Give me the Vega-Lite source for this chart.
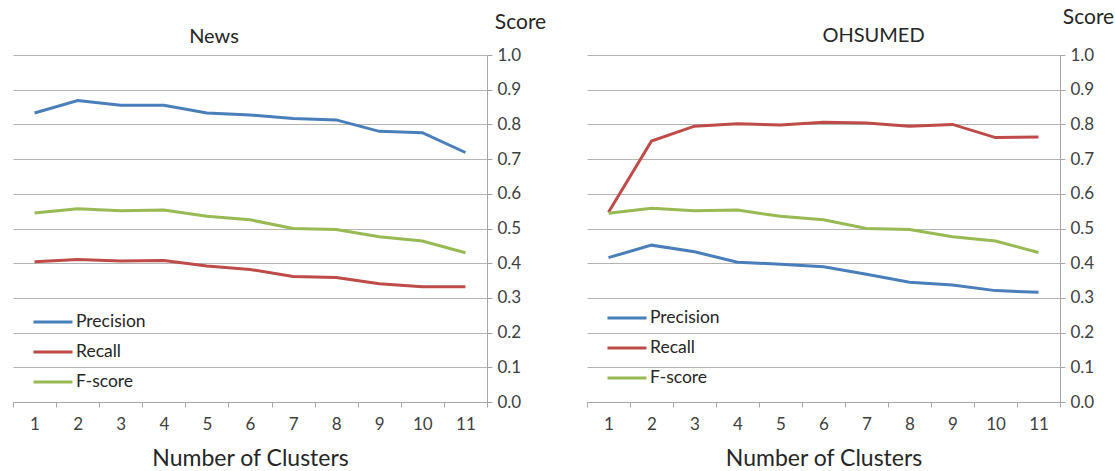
{
  "$schema": "https://vega.github.io/schema/vega-lite/v6.json",
  "background": "white",
  "padding": {"left": 12, "top": 6, "right": 0, "bottom": 0},
  "bounds": "flush",
  "spacing": 100,
  "config": {
    "font": "Lato",
    "view": {"stroke": null},
    "axis": {
      "labelFont": "Lato", "titleFont": "Lato",
      "labelColor": "#404040", "titleColor": "#262626",
      "labelFontSize": 17, "titleFontSize": 20, "titleFontWeight": "normal",
      "domainColor": "#a6a6a6", "tickColor": "#a6a6a6", "gridColor": "#b4b4b4",
      "tickSize": 5
    },
    "legend": {"labelFont": "Lato", "labelFontSize": 17.5, "labelColor": "#262626"},
    "title": {"font": "Lato", "fontSize": 20, "fontWeight": "normal", "color": "#262626"}
  },
  "data": {
    "values": [
      {"set": "News", "k": 1, "metric": "Precision", "score": 0.833},
      {"set": "News", "k": 2, "metric": "Precision", "score": 0.869},
      {"set": "News", "k": 3, "metric": "Precision", "score": 0.855},
      {"set": "News", "k": 4, "metric": "Precision", "score": 0.855},
      {"set": "News", "k": 5, "metric": "Precision", "score": 0.833},
      {"set": "News", "k": 6, "metric": "Precision", "score": 0.827},
      {"set": "News", "k": 7, "metric": "Precision", "score": 0.817},
      {"set": "News", "k": 8, "metric": "Precision", "score": 0.813},
      {"set": "News", "k": 9, "metric": "Precision", "score": 0.780},
      {"set": "News", "k": 10, "metric": "Precision", "score": 0.776},
      {"set": "News", "k": 11, "metric": "Precision", "score": 0.719},
      {"set": "News", "k": 1, "metric": "Recall", "score": 0.404},
      {"set": "News", "k": 2, "metric": "Recall", "score": 0.411},
      {"set": "News", "k": 3, "metric": "Recall", "score": 0.406},
      {"set": "News", "k": 4, "metric": "Recall", "score": 0.408},
      {"set": "News", "k": 5, "metric": "Recall", "score": 0.392},
      {"set": "News", "k": 6, "metric": "Recall", "score": 0.382},
      {"set": "News", "k": 7, "metric": "Recall", "score": 0.362},
      {"set": "News", "k": 8, "metric": "Recall", "score": 0.359},
      {"set": "News", "k": 9, "metric": "Recall", "score": 0.341},
      {"set": "News", "k": 10, "metric": "Recall", "score": 0.332},
      {"set": "News", "k": 11, "metric": "Recall", "score": 0.332},
      {"set": "News", "k": 1, "metric": "F-score", "score": 0.545},
      {"set": "News", "k": 2, "metric": "F-score", "score": 0.557},
      {"set": "News", "k": 3, "metric": "F-score", "score": 0.551},
      {"set": "News", "k": 4, "metric": "F-score", "score": 0.553},
      {"set": "News", "k": 5, "metric": "F-score", "score": 0.535},
      {"set": "News", "k": 6, "metric": "F-score", "score": 0.525},
      {"set": "News", "k": 7, "metric": "F-score", "score": 0.500},
      {"set": "News", "k": 8, "metric": "F-score", "score": 0.497},
      {"set": "News", "k": 9, "metric": "F-score", "score": 0.476},
      {"set": "News", "k": 10, "metric": "F-score", "score": 0.464},
      {"set": "News", "k": 11, "metric": "F-score", "score": 0.430},
      {"set": "OHSUMED", "k": 1, "metric": "Precision", "score": 0.416},
      {"set": "OHSUMED", "k": 2, "metric": "Precision", "score": 0.452},
      {"set": "OHSUMED", "k": 3, "metric": "Precision", "score": 0.433},
      {"set": "OHSUMED", "k": 4, "metric": "Precision", "score": 0.403},
      {"set": "OHSUMED", "k": 5, "metric": "Precision", "score": 0.397},
      {"set": "OHSUMED", "k": 6, "metric": "Precision", "score": 0.390},
      {"set": "OHSUMED", "k": 7, "metric": "Precision", "score": 0.368},
      {"set": "OHSUMED", "k": 8, "metric": "Precision", "score": 0.345},
      {"set": "OHSUMED", "k": 9, "metric": "Precision", "score": 0.337},
      {"set": "OHSUMED", "k": 10, "metric": "Precision", "score": 0.321},
      {"set": "OHSUMED", "k": 11, "metric": "Precision", "score": 0.316},
      {"set": "OHSUMED", "k": 1, "metric": "Recall", "score": 0.547},
      {"set": "OHSUMED", "k": 2, "metric": "Recall", "score": 0.752},
      {"set": "OHSUMED", "k": 3, "metric": "Recall", "score": 0.795},
      {"set": "OHSUMED", "k": 4, "metric": "Recall", "score": 0.802},
      {"set": "OHSUMED", "k": 5, "metric": "Recall", "score": 0.798},
      {"set": "OHSUMED", "k": 6, "metric": "Recall", "score": 0.806},
      {"set": "OHSUMED", "k": 7, "metric": "Recall", "score": 0.804},
      {"set": "OHSUMED", "k": 8, "metric": "Recall", "score": 0.795},
      {"set": "OHSUMED", "k": 9, "metric": "Recall", "score": 0.800},
      {"set": "OHSUMED", "k": 10, "metric": "Recall", "score": 0.762},
      {"set": "OHSUMED", "k": 11, "metric": "Recall", "score": 0.764},
      {"set": "OHSUMED", "k": 1, "metric": "F-score", "score": 0.544},
      {"set": "OHSUMED", "k": 2, "metric": "F-score", "score": 0.558},
      {"set": "OHSUMED", "k": 3, "metric": "F-score", "score": 0.551},
      {"set": "OHSUMED", "k": 4, "metric": "F-score", "score": 0.553},
      {"set": "OHSUMED", "k": 5, "metric": "F-score", "score": 0.535},
      {"set": "OHSUMED", "k": 6, "metric": "F-score", "score": 0.525},
      {"set": "OHSUMED", "k": 7, "metric": "F-score", "score": 0.500},
      {"set": "OHSUMED", "k": 8, "metric": "F-score", "score": 0.497},
      {"set": "OHSUMED", "k": 9, "metric": "F-score", "score": 0.476},
      {"set": "OHSUMED", "k": 10, "metric": "F-score", "score": 0.464},
      {"set": "OHSUMED", "k": 11, "metric": "F-score", "score": 0.431}
    ]
  },
  "resolve": {"scale": {"color": "independent", "x": "independent", "y": "independent"}, "legend": {"color": "independent"}},
  "hconcat": [
    {
      "width": 474,
      "height": 347,
      "title": {"text": "News", "anchor": "middle", "dx": -36, "dy": 40},
      "transform": [{"filter": "datum.set === 'News'"}],
      "mark": {"type": "line", "strokeWidth": 3},
      "encoding": {
        "x": {
          "field": "k", "type": "ordinal", "bandPosition": 0.5,
          "scale": {"type": "band", "paddingInner": 0, "paddingOuter": 0},
          "axis": {"title": "Number of Clusters", "titleFontSize": 23, "labelAngle": 0, "tickBand": "extent", "grid": false, "labelPadding": 9, "titlePadding": 15}
        },
        "y": {
          "field": "score", "type": "quantitative",
          "scale": {"domain": [0, 1], "nice": false, "zero": true},
          "axis": {"orient": "right", "values": [0, 0.1, 0.2, 0.3, 0.4, 0.5, 0.6, 0.7, 0.8, 0.9, 1.0], "format": ".1f", "labelPadding": 5, "title": "Score", "titleFontSize": 21, "titleAngle": 0, "titleAlign": "center", "titleBaseline": "middle", "titleX": 33, "titleY": -33}
        },
        "color": {
          "field": "metric", "type": "nominal", "sort": ["Precision", "Recall", "F-score"],
          "scale": {"domain": ["Precision", "Recall", "F-score"], "range": ["#4a7ebb", "#be4b48", "#98b954"]},
          "legend": {"title": null, "orient": "none", "legendX": 19, "legendY": 246, "symbolType": "stroke", "symbolSize": 1521, "symbolStrokeWidth": 3, "rowPadding": -11, "labelOffset": 2, "padding": 0}
        }
      }
    },
    {
      "width": 473,
      "height": 347,
      "title": {"text": "OHSUMED", "anchor": "middle", "dx": 50, "dy": 44},
      "transform": [{"filter": "datum.set === 'OHSUMED'"}],
      "mark": {"type": "line", "strokeWidth": 3},
      "encoding": {
        "x": {
          "field": "k", "type": "ordinal", "bandPosition": 0.5,
          "scale": {"type": "band", "paddingInner": 0, "paddingOuter": 0},
          "axis": {"title": "Number of Clusters", "titleFontSize": 23, "labelAngle": 0, "tickBand": "extent", "grid": false, "labelPadding": 9, "titlePadding": 15}
        },
        "y": {
          "field": "score", "type": "quantitative",
          "scale": {"domain": [0, 1], "nice": false, "zero": true},
          "axis": {"orient": "right", "values": [0, 0.1, 0.2, 0.3, 0.4, 0.5, 0.6, 0.7, 0.8, 0.9, 1.0], "format": ".1f", "labelPadding": 5, "title": "Score", "titleFontSize": 21, "titleAngle": 0, "titleAlign": "center", "titleBaseline": "middle", "titleX": 28, "titleY": -38}
        },
        "color": {
          "field": "metric", "type": "nominal", "sort": ["Precision", "Recall", "F-score"],
          "scale": {"domain": ["Precision", "Recall", "F-score"], "range": ["#4a7ebb", "#be4b48", "#98b954"]},
          "legend": {"title": null, "orient": "none", "legendX": 19, "legendY": 242, "symbolType": "stroke", "symbolSize": 1521, "symbolStrokeWidth": 3, "rowPadding": -8, "labelOffset": 2, "padding": 0}
        }
      }
    }
  ]
}
